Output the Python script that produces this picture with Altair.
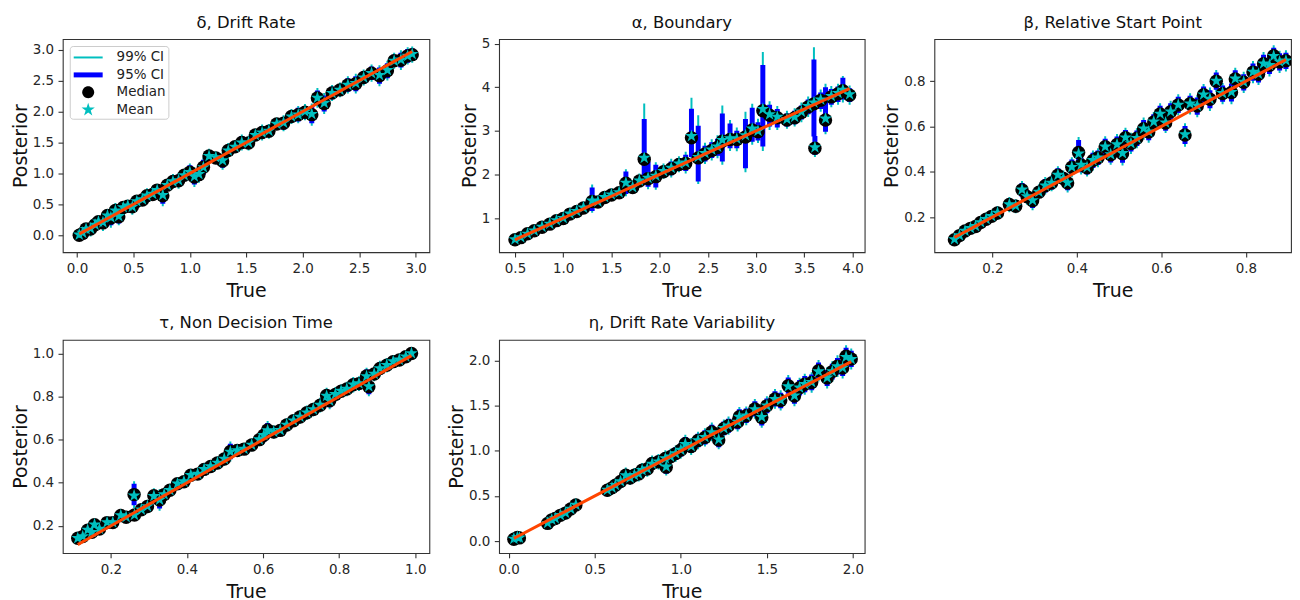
import altair as alt
import pandas as pd

# ---------------- data ----------------
# delta, drift rate
D_true = [0.02,0.05,0.08,0.12,0.16,0.19,0.23,0.27,0.30,0.34,0.37,0.41,0.45,0.49,0.53,0.58,0.62,0.67,0.71,0.76,
          0.80,0.85,0.90,0.95,1.00,1.04,1.08,1.12,1.17,1.23,1.29,1.34,1.40,1.46,1.52,1.58,1.64,1.70,1.77,1.83,
          1.90,1.96,2.02,2.08,2.13,2.19,2.26,2.33,2.40,2.47,2.54,2.61,2.68,2.75,2.81,2.87,2.93,2.97]
D_med = [0.00,0.03,0.10,0.10,0.17,0.22,0.20,0.32,0.28,0.40,0.30,0.45,0.47,0.46,0.55,0.57,0.64,0.66,0.73,0.64,
         0.81,0.87,0.88,0.97,1.02,0.94,0.98,1.10,1.28,1.25,1.20,1.37,1.43,1.50,1.49,1.62,1.66,1.68,1.80,1.81,
         1.92,1.95,1.99,1.95,2.22,2.13,2.30,2.35,2.43,2.45,2.55,2.62,2.58,2.66,2.82,2.83,2.90,2.92]
D_mean = [0.01,0.04,0.10,0.11,0.17,0.22,0.21,0.32,0.29,0.40,0.31,0.45,0.48,0.46,0.55,0.58,0.64,0.67,0.73,0.65,
          0.81,0.87,0.89,0.97,1.02,0.95,0.99,1.10,1.28,1.26,1.21,1.37,1.43,1.50,1.50,1.62,1.66,1.69,1.80,1.82,
          1.92,1.95,2.00,1.96,2.22,2.14,2.30,2.35,2.43,2.46,2.55,2.62,2.59,2.67,2.82,2.84,2.90,2.93]
D_e95 = [0.06,0.08,0.07,0.09,0.06,0.08,0.10,0.07,0.12,0.09,0.11,0.08,0.07,0.10,0.08,0.07,0.09,0.08,0.07,0.13,
         0.08,0.09,0.10,0.08,0.11,0.12,0.10,0.12,0.09,0.08,0.11,0.09,0.08,0.10,0.09,0.08,0.10,0.09,0.08,0.10,
         0.09,0.11,0.10,0.14,0.12,0.13,0.10,0.09,0.11,0.12,0.10,0.11,0.13,0.12,0.10,0.12,0.11,0.10]
D_e99 = [0.08,0.10,0.09,0.12,0.08,0.10,0.13,0.09,0.16,0.12,0.14,0.10,0.09,0.13,0.10,0.09,0.12,0.10,0.09,0.17,
         0.10,0.12,0.13,0.10,0.14,0.16,0.13,0.16,0.12,0.10,0.14,0.12,0.10,0.13,0.12,0.10,0.13,0.12,0.10,0.13,
         0.12,0.14,0.13,0.18,0.16,0.17,0.13,0.12,0.14,0.16,0.13,0.14,0.17,0.16,0.13,0.16,0.14,0.13]

# alpha, boundary (asymmetric intervals)
A_true = [0.50,0.56,0.63,0.70,0.78,0.86,0.93,1.00,1.07,1.14,1.21,1.30,1.36,1.43,1.50,1.58,1.65,1.72,1.79,1.84,
          1.88,1.96,2.04,2.12,2.20,2.27,2.33,2.40,2.47,2.54,2.60,2.65,2.73,2.80,2.89,2.96,3.02,3.07,3.14,3.22,
          3.32,3.40,3.47,3.54,3.60,3.61,3.67,3.72,3.78,3.85,3.90,3.97]
A_med = [0.50,0.55,0.64,0.71,0.79,0.86,0.94,0.99,1.09,1.15,1.23,1.38,1.37,1.47,1.53,1.58,1.80,1.70,1.85,2.35,
         1.90,1.95,2.06,2.13,2.23,2.25,2.84,2.38,2.47,2.55,2.62,2.76,2.80,2.80,2.86,3.02,2.98,3.46,3.36,3.30,
         3.25,3.30,3.42,3.55,3.62,2.60,3.70,3.25,3.78,3.85,3.92,3.82]
A_mean = [0.51,0.56,0.64,0.71,0.80,0.87,0.95,1.00,1.10,1.16,1.24,1.40,1.38,1.48,1.54,1.59,1.81,1.71,1.86,2.38,
          1.92,1.97,2.08,2.15,2.25,2.27,2.88,2.40,2.49,2.57,2.64,2.79,2.83,2.82,2.90,3.05,3.00,3.50,3.38,3.32,
          3.27,3.32,3.44,3.57,3.65,2.62,3.72,3.28,3.80,3.87,3.94,3.84]
A_lo95 = [0.46,0.51,0.59,0.66,0.73,0.80,0.88,0.93,1.02,1.08,1.15,1.16,1.28,1.38,1.44,1.48,1.55,1.60,1.74,1.90,
          1.72,1.70,1.94,1.98,2.10,2.08,2.40,1.84,2.30,2.38,2.43,2.30,2.60,2.60,2.14,2.75,2.78,2.64,3.10,3.08,
          3.10,3.15,3.26,3.38,2.87,2.45,3.50,2.98,3.60,3.66,3.72,3.66]
A_hi95 = [0.55,0.60,0.69,0.76,0.85,0.92,1.00,1.06,1.16,1.23,1.31,1.70,1.46,1.56,1.63,1.68,2.07,1.81,1.97,3.27,
          2.30,2.22,2.19,2.30,2.37,2.45,3.51,3.12,2.66,2.74,2.82,3.40,3.17,3.00,3.27,3.53,3.20,4.51,3.60,3.50,
          3.40,3.46,3.58,3.72,4.64,2.88,3.88,4.00,3.96,4.02,4.22,3.98]
A_lo99 = [0.44,0.49,0.57,0.64,0.71,0.78,0.86,0.90,0.99,1.05,1.12,1.12,1.25,1.34,1.40,1.44,1.50,1.56,1.70,1.82,
          1.66,1.65,1.90,1.93,2.05,2.02,2.30,1.78,2.24,2.32,2.37,2.22,2.54,2.53,2.05,2.68,2.72,2.54,3.02,3.02,
          3.05,3.10,3.20,3.32,2.75,2.40,3.44,2.92,3.54,3.60,3.65,3.60]
A_hi99 = [0.57,0.62,0.71,0.78,0.87,0.95,1.03,1.09,1.19,1.26,1.35,1.77,1.50,1.60,1.67,1.72,2.12,1.86,2.02,3.63,
          2.38,2.28,2.25,2.36,2.42,2.52,3.76,3.36,2.73,2.81,2.90,3.58,3.25,3.08,3.44,3.62,3.28,4.81,3.68,3.57,
          3.46,3.52,3.65,3.79,4.92,2.95,3.95,4.08,4.03,4.08,4.26,4.04]

# beta, relative start point
B_true = [0.110,0.122,0.135,0.148,0.160,0.172,0.185,0.198,0.212,0.240,0.255,0.270,0.282,0.295,0.310,0.325,0.340,
          0.355,0.368,0.378,0.388,0.404,0.410,0.424,0.438,0.450,0.467,0.480,0.495,0.508,0.515,0.528,0.542,0.558,
          0.570,0.582,0.597,0.610,0.622,0.640,0.656,0.668,0.685,0.700,0.715,0.730,0.745,0.766,0.775,0.795,0.817,
          0.830,0.842,0.856,0.866,0.880,0.895]
B_med = [0.100,0.118,0.138,0.150,0.158,0.176,0.190,0.203,0.218,0.255,0.248,0.320,0.290,0.272,0.310,0.338,0.350,
         0.385,0.370,0.350,0.420,0.485,0.430,0.418,0.450,0.462,0.510,0.475,0.520,0.480,0.550,0.525,0.548,0.590,
         0.575,0.620,0.655,0.615,0.665,0.695,0.562,0.700,0.690,0.740,0.720,0.800,0.745,0.750,0.810,0.795,0.840,
         0.830,0.877,0.870,0.912,0.885,0.890]
B_mean = [0.102,0.119,0.139,0.151,0.160,0.177,0.191,0.204,0.219,0.256,0.250,0.321,0.291,0.274,0.311,0.339,0.351,
          0.386,0.371,0.352,0.421,0.480,0.431,0.420,0.451,0.463,0.511,0.477,0.521,0.482,0.551,0.526,0.549,0.591,
          0.577,0.621,0.656,0.617,0.666,0.696,0.565,0.701,0.692,0.741,0.722,0.801,0.747,0.752,0.811,0.797,0.841,
          0.832,0.878,0.871,0.911,0.886,0.891]
B_e95 = [0.015,0.018,0.016,0.020,0.018,0.020,0.022,0.020,0.024,0.026,0.024,0.030,0.028,0.032,0.026,0.030,0.028,
         0.030,0.028,0.032,0.034,0.055,0.032,0.030,0.034,0.032,0.036,0.034,0.036,0.040,0.034,0.036,0.034,0.038,
         0.036,0.034,0.036,0.034,0.038,0.036,0.040,0.036,0.038,0.036,0.040,0.038,0.036,0.040,0.038,0.036,0.038,
         0.036,0.040,0.038,0.036,0.038,0.036]
B_e99 = [0.020,0.024,0.021,0.026,0.024,0.026,0.029,0.026,0.031,0.034,0.031,0.039,0.036,0.042,0.034,0.039,0.036,
         0.039,0.036,0.042,0.044,0.068,0.042,0.039,0.044,0.042,0.047,0.044,0.047,0.052,0.044,0.047,0.044,0.049,
         0.047,0.044,0.047,0.044,0.049,0.047,0.052,0.047,0.049,0.047,0.052,0.049,0.047,0.052,0.049,0.047,0.049,
         0.047,0.052,0.049,0.047,0.049,0.047]

# tau, non decision time
T_true = [0.113,0.126,0.139,0.150,0.157,0.170,0.190,0.205,0.226,0.240,0.261,0.262,0.280,0.296,0.313,0.328,0.340,
          0.355,0.375,0.392,0.410,0.428,0.445,0.462,0.480,0.498,0.514,0.532,0.550,0.570,0.590,0.602,0.612,0.628,
          0.645,0.662,0.680,0.697,0.715,0.732,0.750,0.767,0.775,0.790,0.805,0.820,0.837,0.852,0.872,0.878,0.892,
          0.907,0.925,0.942,0.958,0.975,0.990]
T_med = [0.142,0.150,0.180,0.170,0.205,0.185,0.215,0.215,0.248,0.240,0.345,0.250,0.275,0.290,0.340,0.320,0.345,
         0.365,0.395,0.405,0.435,0.440,0.462,0.475,0.492,0.510,0.545,0.550,0.556,0.575,0.600,0.620,0.645,0.635,
         0.643,0.668,0.688,0.705,0.725,0.740,0.760,0.805,0.780,0.810,0.825,0.835,0.855,0.860,0.895,0.845,0.905,
         0.930,0.945,0.962,0.970,0.985,1.000]
T_mean = [0.143,0.151,0.181,0.171,0.206,0.186,0.216,0.216,0.249,0.241,0.340,0.251,0.276,0.291,0.338,0.321,0.346,
          0.366,0.396,0.406,0.436,0.441,0.463,0.476,0.493,0.511,0.544,0.551,0.557,0.576,0.601,0.621,0.643,0.636,
          0.644,0.669,0.689,0.706,0.726,0.741,0.761,0.803,0.781,0.811,0.826,0.836,0.856,0.861,0.894,0.847,0.906,
          0.931,0.946,0.963,0.971,0.986,1.001]
T_e95 = [0.012,0.014,0.012,0.015,0.014,0.016,0.015,0.016,0.018,0.017,0.050,0.018,0.020,0.024,0.026,0.040,0.022,
         0.020,0.021,0.020,0.022,0.021,0.022,0.020,0.022,0.024,0.036,0.022,0.021,0.022,0.024,0.030,0.032,0.024,
         0.022,0.024,0.022,0.024,0.026,0.024,0.026,0.028,0.030,0.026,0.024,0.026,0.028,0.026,0.030,0.034,0.026,
         0.028,0.026,0.024,0.022,0.020,0.018]
T_e99 = [0.016,0.018,0.016,0.020,0.018,0.021,0.020,0.021,0.023,0.022,0.062,0.023,0.026,0.031,0.034,0.050,0.029,
         0.026,0.027,0.026,0.029,0.027,0.029,0.026,0.029,0.031,0.046,0.029,0.027,0.029,0.031,0.039,0.041,0.031,
         0.029,0.031,0.029,0.031,0.034,0.031,0.034,0.036,0.039,0.034,0.031,0.034,0.036,0.034,0.039,0.044,0.034,
         0.036,0.034,0.031,0.029,0.026,0.023]

# eta, drift rate variability
H_true = [0.030,0.050,0.062,0.226,0.250,0.270,0.300,0.330,0.360,0.390,0.573,0.600,0.620,0.650,0.680,0.705,0.730,
          0.755,0.775,0.805,0.833,0.870,0.910,0.915,0.940,0.970,1.000,1.026,1.060,1.100,1.140,1.180,1.220,1.250,
          1.277,1.330,1.340,1.380,1.430,1.470,1.500,1.547,1.580,1.624,1.660,1.690,1.720,1.760,1.800,1.850,1.880,
          1.910,1.940,1.960,1.990]
H_med = [0.020,0.040,0.035,0.196,0.235,0.250,0.285,0.310,0.355,0.400,0.564,0.590,0.620,0.660,0.730,0.700,0.730,
         0.745,0.785,0.800,0.860,0.880,0.915,0.820,0.935,0.970,1.010,1.080,1.050,1.116,1.150,1.210,1.120,1.250,
         1.280,1.320,1.380,1.390,1.466,1.370,1.500,1.577,1.560,1.724,1.610,1.700,1.740,1.760,1.890,1.810,1.880,
         1.940,1.920,2.050,2.020]
H_mean = [0.025,0.042,0.038,0.200,0.238,0.253,0.288,0.313,0.357,0.402,0.567,0.593,0.622,0.662,0.728,0.703,0.733,
          0.748,0.787,0.803,0.858,0.882,0.917,0.826,0.938,0.972,1.012,1.076,1.053,1.118,1.153,1.207,1.126,1.252,
          1.282,1.323,1.378,1.392,1.462,1.376,1.503,1.574,1.563,1.716,1.614,1.702,1.742,1.763,1.882,1.813,1.882,
          1.938,1.923,2.042,2.018]
H_e95 = [0.040,0.045,0.042,0.050,0.048,0.052,0.050,0.055,0.052,0.055,0.058,0.060,0.058,0.062,0.065,0.060,0.062,
         0.065,0.062,0.066,0.068,0.065,0.070,0.072,0.068,0.070,0.072,0.075,0.072,0.075,0.078,0.080,0.078,0.076,
         0.078,0.080,0.082,0.080,0.085,0.088,0.082,0.085,0.086,0.090,0.088,0.086,0.090,0.088,0.092,0.090,0.088,
         0.092,0.090,0.094,0.090]
H_e99 = [0.052,0.058,0.055,0.065,0.062,0.068,0.065,0.072,0.068,0.072,0.075,0.078,0.075,0.081,0.085,0.078,0.081,
         0.085,0.081,0.086,0.088,0.085,0.091,0.094,0.088,0.091,0.094,0.098,0.094,0.098,0.101,0.104,0.101,0.099,
         0.101,0.104,0.107,0.104,0.110,0.114,0.107,0.110,0.112,0.117,0.114,0.112,0.117,0.114,0.120,0.117,0.114,
         0.120,0.117,0.122,0.117]

KINDS = ["99% CI", "95% CI", "Median", "Mean"]

# ---------------- styling ----------------
CYAN = "#00BFBF"
BLUE = "#0000FF"
ORANGE = "#FF4500"
FONT = "DejaVu Sans"

STAR_PTS = [(0, -1), (0.2245, -0.309), (0.951, -0.309), (0.363, 0.118), (0.588, 0.809),
            (0, 0.382), (-0.588, 0.809), (-0.363, 0.118), (-0.951, -0.309), (-0.2245, -0.309)]


def star_path(r):
    return "M" + "L".join(f"{px * r:.3f},{py * r:.3f}" for px, py in STAR_PTS) + "Z"


def circle_path(r):
    return f"M{-r},0A{r},{r} 0 1,0 {r},0A{r},{r} 0 1,0 {-r},0Z"


def rect_path(hw, hh):
    return f"M{-hw},{-hh}H{hw}V{hh}H{-hw}Z"


LEG_SHAPES = [rect_path(1.53, 0.105), rect_path(1.53, 0.263), circle_path(0.632), star_path(0.737)]
LEG_COLORS = [CYAN, BLUE, "black", CYAN]


def sym_df(true, med, mean, e95, e99):
    return pd.DataFrame({
        "t": true, "med": med, "mean": mean,
        "lo95": [m - e for m, e in zip(med, e95)], "hi95": [m + e for m, e in zip(med, e95)],
        "lo99": [m - e for m, e in zip(med, e99)], "hi99": [m + e for m, e in zip(med, e99)],
    })


def panel(title, df, xdom, ydom, xticks, yticks, xfmt, yfmt, width, height, legend=False,
          title_offset=8):
    xs = alt.Scale(domain=xdom, nice=False, zero=False)
    ys = alt.Scale(domain=ydom, nice=False, zero=False)
    xa = alt.Axis(title="True", values=xticks, format=xfmt, titlePadding=7)
    ya = alt.Axis(title="Posterior", values=yticks, format=yfmt, titlePadding=2)
    X = alt.X("t:Q", scale=xs, axis=xa)
    base = alt.Chart(df)
    ci99 = base.mark_rule(color=CYAN, strokeWidth=2, clip=True).encode(
        x=X, y=alt.Y("lo99:Q", scale=ys, axis=ya), y2="hi99:Q")
    ci95 = base.mark_rule(color=BLUE, strokeWidth=5, clip=True).encode(
        x=X, y=alt.Y("lo95:Q", scale=ys, axis=ya), y2="hi95:Q")
    med = base.mark_point(shape="circle", filled=True, color="black", size=182, opacity=1,
                          clip=True).encode(x=X, y=alt.Y("med:Q", scale=ys, axis=ya))
    mean = base.mark_point(shape=star_path(1), filled=True, color=CYAN, size=182, opacity=1,
                           clip=True).encode(x=X, y=alt.Y("mean:Q", scale=ys, axis=ya))
    line = base.mark_line(color=ORANGE, strokeWidth=3, clip=True).encode(
        x=X, y=alt.Y("t:Q", scale=ys, axis=ya))
    layers = [ci99, ci95, med, mean, line]
    if legend:
        leg = alt.Legend(title=None, orient="top-left", offset=7, padding=2,
                         strokeColor="#cccccc", fillColor="rgba(255,255,255,0.8)", cornerRadius=3,
                         labelFont=FONT, labelFontSize=13.5, labelColor="#222222",
                         symbolSize=361, symbolStrokeWidth=0, symbolOffset=7, labelOffset=19,
                         rowPadding=1.5)
        leg_df = pd.DataFrame({"kind": KINDS, "t": [float("nan")] * 4})
        leg_layer = alt.Chart(leg_df).mark_point(filled=True, opacity=1, size=361).encode(
            x=alt.X("t:Q", scale=xs, axis=xa),
            y=alt.Y("t:Q", scale=ys, axis=ya),
            shape=alt.Shape("kind:N", scale=alt.Scale(domain=KINDS, range=LEG_SHAPES), legend=leg),
            fill=alt.Fill("kind:N", scale=alt.Scale(domain=KINDS, range=LEG_COLORS), legend=leg),
        )
        layers.append(leg_layer)
    return alt.layer(*layers).properties(
        width=width, height=height,
        title=alt.Title(title, font=FONT, fontSize=16.5, fontWeight="normal", color="#111111",
                        offset=title_offset))


H = 214
p1 = panel("δ, Drift Rate", sym_df(D_true, D_med, D_mean, D_e95, D_e99),
           [-0.126, 3.122], [-0.274, 3.172], [0, 0.5, 1.0, 1.5, 2.0, 2.5, 3.0],
           [0, 0.5, 1.0, 1.5, 2.0, 2.5, 3.0], ".1f", ".1f", 368, H, legend=True)
p2 = panel("α, Boundary",
           pd.DataFrame({"t": A_true, "med": A_med, "mean": A_mean, "lo95": A_lo95, "hi95": A_hi95,
                         "lo99": A_lo99, "hi99": A_hi99}),
           [0.335, 4.126], [0.216, 5.107], [0.5, 1.0, 1.5, 2.0, 2.5, 3.0, 3.5, 4.0],
           [1, 2, 3, 4, 5], ".1f", "d", 367, H, title_offset=5)
p3 = panel("β, Relative Start Point", sym_df(B_true, B_med, B_mean, B_e95, B_e99),
           [0.0625, 0.907], [0.0447, 0.986], [0.2, 0.4, 0.6, 0.8], [0.2, 0.4, 0.6, 0.8],
           ".1f", ".1f", 358, H)
p4 = panel("τ, Non Decision Time", sym_df(T_true, T_med, T_mean, T_e95, T_e99),
           [0.0736, 1.037], [0.0738, 1.063], [0.2, 0.4, 0.6, 0.8, 1.0], [0.2, 0.4, 0.6, 0.8, 1.0],
           ".1f", ".1f", 368, H)
p5 = panel("η, Drift Rate Variability", sym_df(H_true, H_med, H_mean, H_e95, H_e99),
           [-0.056, 2.068], [-0.133, 2.232], [0, 0.5, 1.0, 1.5, 2.0], [0, 0.5, 1.0, 1.5, 2.0],
           ".1f", ".1f", 367, H)

chart = alt.concat(p1, p2, p3, p4, p5, columns=3, spacing={"row": 88, "column": 70},
                   bounds="flush").properties(
    padding={"left": 2, "top": 4, "right": 0, "bottom": 0}
).configure_view(
    stroke="#333333", strokeWidth=1.1
).configure_axis(
    grid=False, domain=False, labelFont=FONT, labelFontSize=13.5, labelColor="#262626",
    titleFont=FONT, titleFontSize=19, titleFontWeight="normal", titleColor="#111111",
    tickColor="#333333", tickSize=4.8, tickWidth=1.1, labelPadding=4.5,
    labelFlush=False, labelOverlap=False
)

chart.save("out.html", embed_options={"renderer": "svg", "actions": False})
